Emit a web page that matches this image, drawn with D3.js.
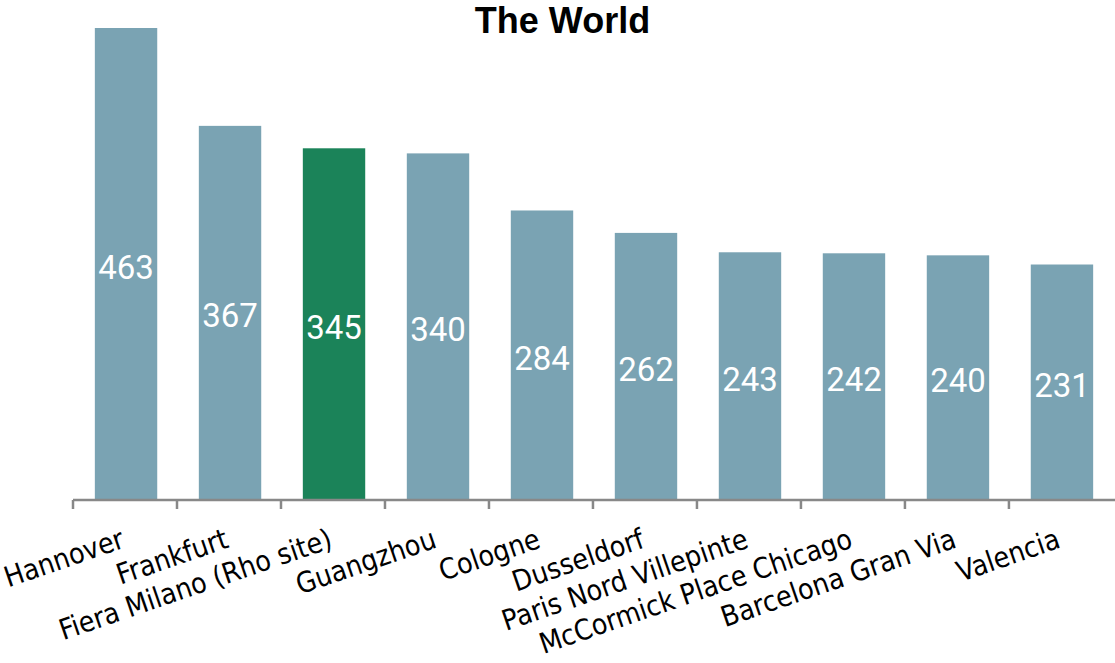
<!DOCTYPE html>
<html>
<head>
<meta charset="utf-8">
<script src="https://cdn.jsdelivr.net/npm/d3@7"></script>
<style>
  body { margin: 0; background: #fff; }
</style>
</head>
<body>
<svg id="chart" width="1115" height="663"></svg>
<script>
const venues = ['Hannover', 'Frankfurt', 'Fiera Milano (Rho site)', 'Guangzhou', 'Cologne',
  'Dusseldorf', 'Paris Nord Villepinte', 'McCormick Place Chicago', 'Barcelona Gran Via', 'Valencia']
const areas = [463, 367, 345, 340, 284, 262, 243, 242, 240, 231]
const highlighted = ['Fiera Milano (Rho site)']
const title = 'The World'

const width = 1115
const baseY = 500
const svg = d3.select('#chart')

const x = d3.scaleBand()
  .domain(venues)
  .range([73, 1115])
  .paddingInner(0.4)
  .paddingOuter(0.21)

const y = d3.scaleLinear()
  .domain([0, d3.max(areas)])
  .range([baseY, 28])

const data = venues.map((v, i) => ({name: v, value: areas[i]}))

svg.append('text')
  .attr('x', width / 2 + 5)
  .attr('y', 33)
  .attr('text-anchor', 'middle')
  .style('font-family', 'Liberation Sans, Arial, sans-serif')
  .style('font-weight', 'bold')
  .style('font-size', '36px')
  .text(title)

svg.selectAll('.bar')
  .data(data)
  .enter()
  .append('rect')
  .attr('class', 'bar')
  .attr('x', d => x(d.name))
  .attr('y', d => y(d.value))
  .attr('width', x.bandwidth())
  .attr('height', d => baseY - y(d.value))
  .attr('fill', d => highlighted.includes(d.name) ? '#1b8359' : '#7aa3b3')

svg.selectAll('.bar-label')
  .data(data)
  .enter()
  .append('text')
  .attr('class', 'bar-label')
  .attr('x', d => x(d.name) + x.bandwidth() / 2)
  .attr('y', d => (y(d.value) + baseY) / 2)
  .attr('dy', '0.44em')
  .attr('text-anchor', 'middle')
  .style('font-family', 'Roboto, sans-serif')
  .style('font-size', '33px')
  .style('fill', '#fff')
  .text(d => d.value)

// axis line and ticks on the band boundaries
svg.append('line')
  .attr('x1', x.range()[0])
  .attr('x2', x.range()[1])
  .attr('y1', baseY)
  .attr('y2', baseY)
  .attr('stroke', '#888')
  .attr('stroke-width', 2.5)

const step = x.step()
const boundaries = venues.map((v, i) => x.range()[0] + i * step)
svg.selectAll('.tick')
  .data(boundaries)
  .enter()
  .append('line')
  .attr('class', 'tick')
  .attr('x1', d => d)
  .attr('x2', d => d)
  .attr('y1', baseY)
  .attr('y2', baseY + 9)
  .attr('stroke', '#888')
  .attr('stroke-width', 2.5)

svg.selectAll('.cat-label')
  .data(venues)
  .enter()
  .append('text')
  .attr('class', 'cat-label')
  .attr('transform', d => `translate(${x(d) + x.bandwidth() / 2},547) rotate(-19)`)
  .attr('text-anchor', 'end')
  .style('font-family', 'DejaVu Sans Condensed, DejaVu Sans, sans-serif')
  .style('font-stretch', 'condensed')
  .style('font-size', '28.5px')
  .style('fill', '#000')
  .text(d => d)
</script>
</body>
</html>
